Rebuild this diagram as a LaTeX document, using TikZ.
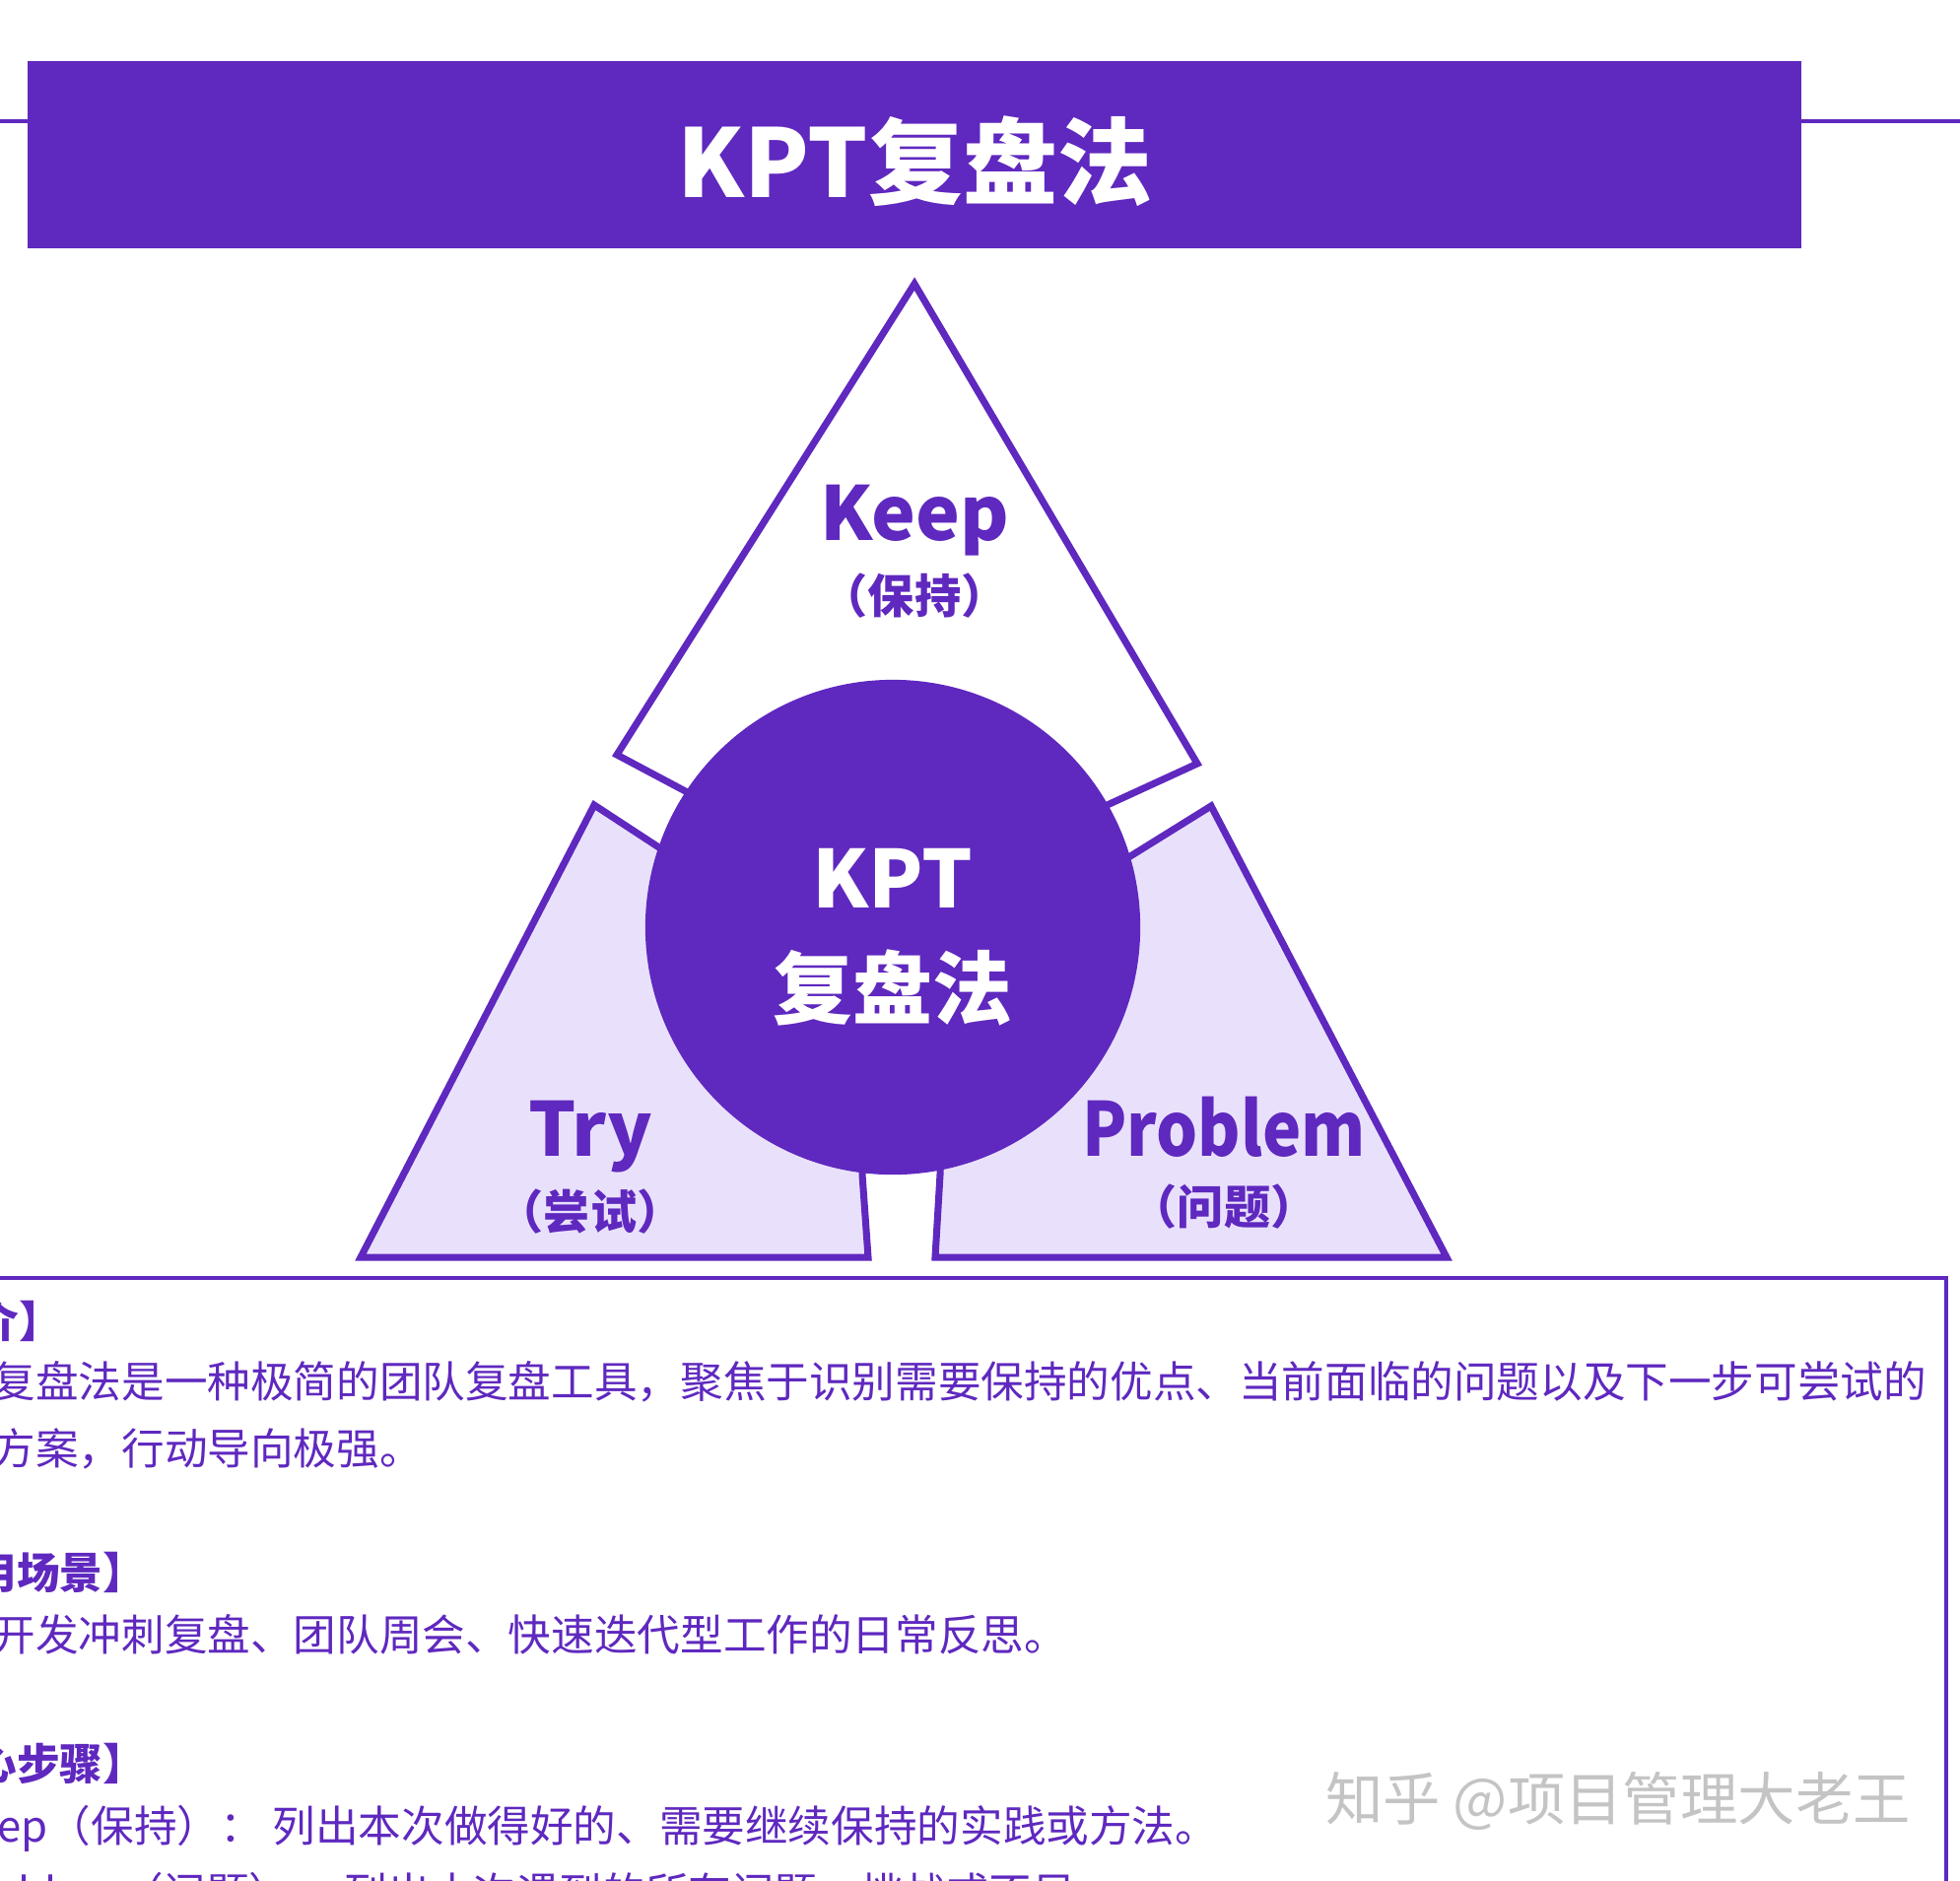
\documentclass[tikz,border=0pt]{standalone}
\usepackage{fontspec}
\setmainfont{Noto Sans CJK SC}
\usepackage{xcolor}
\usepackage{tikz}
\usetikzlibrary{positioning}
\definecolor{kptpurple}{HTML}{5F28BF}
\definecolor{kptlilac}{HTML}{E9E1FC}
\definecolor{markgray}{HTML}{C4C4C4}

\begin{document}
\begin{tikzpicture}[x=0.01cm, y=-0.01cm,
  piece/.style={draw=kptpurple, line width=2pt, line join=miter},
  biglabel/.style={anchor=base, text=kptpurple, inner sep=0pt, font=\fontsize{21.5}{26}\selectfont\bfseries},
  sublabel/.style={text=kptpurple, inner sep=0pt, font=\fontsize{13.4}{16}\selectfont\bfseries},
  bodyline/.style={anchor=base west, inner sep=0pt, text=kptpurple, font=\fontsize{12.4}{14}\selectfont},
  headline/.style={bodyline, font=\fontsize{12.4}{14}\selectfont\bfseries}]
  \useasboundingbox (0,0) rectangle (1989,1908);
  \clip (0,0) rectangle (1989,1908);

  % title bar
  \draw[kptpurple, line width=0.9pt] (0,123) -- (1989,123);
  \node[fill=kptpurple, minimum width=17.98cm, minimum height=1.9cm, inner sep=0pt] (titlebar) at (928,157) {};
  \node[text=white, inner sep=0pt, font=\fontsize{27.3}{30}\selectfont\bfseries] (title) at (928,164) {KPT复盘法};

  % three pieces
  \draw[piece, fill=white] (928,288) -- (626,766) -- (908,916) -- (1215,775) -- cycle;
  \draw[piece, fill=kptlilac] (603,817) -- (366,1276) -- (881,1276) -- (875,1192) -- (878,997) -- cycle;
  \draw[piece, fill=kptlilac] (1229,818) -- (1468,1276) -- (949,1276) -- (954,1192) -- (954,989) -- cycle;

  \node[circle, fill=kptpurple, minimum size=5.02cm, inner sep=0pt] (core) at (906,941) {};
  \node[text=white, inner sep=0pt, align=center, font=\fontsize{23}{31.9}\selectfont\bfseries] (coretext) at (906,951) {KPT\\复盘法};

  \node[biglabel] (keep) at (928,548) {Keep};
  \node[sublabel] (keepcn) at (928,605) {（保持）};
  \node[biglabel] (try) at (599,1173) {Try};
  \node[sublabel] (trycn) at (599,1230) {（尝试）};
  \node[biglabel, xscale=0.875, transform shape] (problem) at (1242,1173) {Problem};
  \node[sublabel] (problemcn) at (1242,1225) {（问题）};

  % text box
  \draw[kptpurple, line width=1pt] (-20,1297) rectangle (1975,2100);
  \node[headline] (introhead) at (-25,1357) {介】};
  \node[bodyline] (intro1) at (-8,1418) {复盘法是一种极简的团队复盘工具，聚焦于识别需要保持的优点、当前面临的问题以及下一步可尝试的};
  \node[bodyline] (intro2) at (-8,1486) {方案，行动导向极强。};
  \node[headline] (scenehead) at (-27,1612) {用场景】};
  \node[bodyline] (scene1) at (-8,1675) {开发冲刺复盘、团队周会、快速迭代型工作的日常反思。};
  \node[headline] (stepshead) at (-27,1806) {心步骤】};
  \node[bodyline] (stepkeep) at (-3,1869) {ep（保持）： 列出本次做得好的、需要继续保持的实践或方法。};
  \node[bodyline] (stepproblem) at (-9,1937) {oblem（问题）： 列出本次遇到的所有问题、挑战或不足。};

  \node[text=markgray, inner sep=0pt, font=\fontsize{16.6}{18}\selectfont] (mark) at (1642,1828) {知乎 @项目管理大老王};
\end{tikzpicture}
\end{document}
